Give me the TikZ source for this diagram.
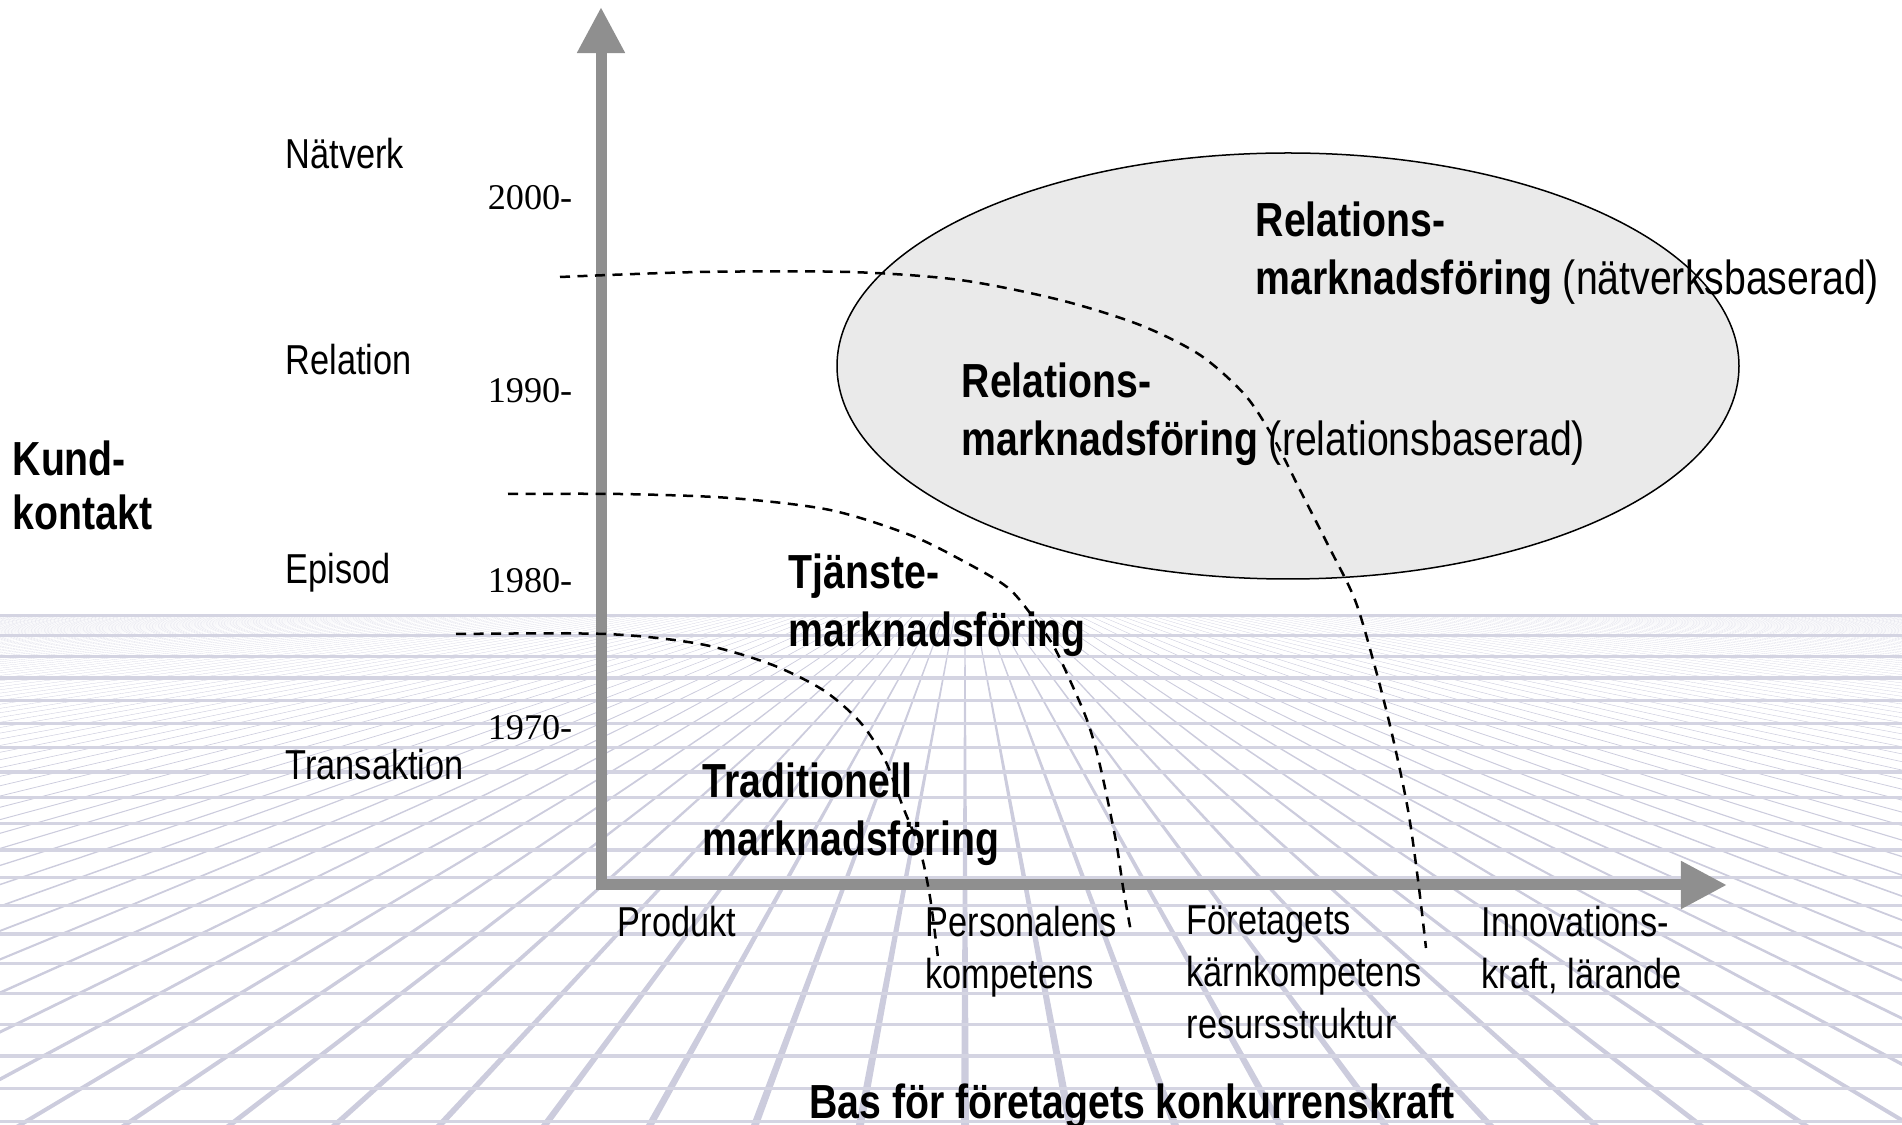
\documentclass[tikz,border=0pt]{standalone}
\usepackage{fontspec}
\setmainfont{Liberation Sans}[FakeStretch=0.82]
\newfontfamily\yearfont{Liberation Serif}
\usetikzlibrary{arrows.meta}
\definecolor{axisgray}{RGB}{143,143,143}
\definecolor{gridlilac}{RGB}{204,204,221}
\definecolor{ovalgray}{RGB}{234,234,234}

\begin{document}
\begin{tikzpicture}[x=0.01cm, y=-0.01cm,
  axis/.style={axisgray, line width=0.11cm, line cap=rect, -{Triangle[width=0.45cm,length=0.46cm]}},
  era/.style={dash pattern=on 0.1cm off 0.075cm, line width=0.025cm},
  lbl/.style={inner sep=0, anchor=north west, align=left, font=\fontsize{11.9pt}{14.8pt}\selectfont},
  bold/.style={inner sep=0, anchor=north west, align=left, font=\fontsize{13.6pt}{16.4pt}\selectfont\bfseries},
  year/.style={inner sep=0, anchor=north east, font=\yearfont\fontsize{10.3pt}{12pt}\selectfont}]
  \useasboundingbox (0,0) rectangle (1902,1125);

  % floor grid
  \begin{scope}
    \clip (0,615) rectangle (1902,1125);
    \foreach \k in {-100,...,100}
      \fill[gridlilac] (965,560) -- ({965+105*\k-4},1125) -- ({965+105*\k+4},1125) -- cycle;
    \foreach \j in {0,...,19}
      \draw[gridlilac!85, line width=0.035cm] (0,{615+20*\j+0.35*\j*\j}) -- (1902,{615+20*\j+0.35*\j*\j});
  \end{scope}

  % relationship marketing area
  \draw[fill=ovalgray, line width=0.015cm] (1288,366) ellipse [x radius=451, y radius=213];

  % axes
  \coordinate (origin) at (601,885);
  \coordinate (ytip) at (601,7);
  \coordinate (xtip) at (1727,885);
  \draw[axis] (origin) -- (ytip);
  \draw[axis] (origin) -- (xtip);

  % era borders
  \draw[era] plot[smooth] coordinates {(456,634) (606,634) (700,644) (770,664) (823,690) (860,722) (885,760) (903,807) (920,850) (930,897) (938,958)};
  \draw[era] plot[smooth] coordinates {(508,494) (620,494) (730,498) (830,510) (910,535) (965,562) (1007,587) (1030,613) (1053,645) (1073,687) (1087,720) (1097,753) (1107,797) (1117,847) (1123,887) (1131,932)};
  \draw[era] plot[smooth] coordinates {(560,277) (700,272) (850,272) (960,280) (1060,300) (1140,325) (1200,355) (1245,395) (1274,439) (1300,490) (1328,545) (1355,600) (1375,667) (1392,734) (1408,810) (1418,880) (1426,948)};

  % y axis labels
  \node[lbl] (natverk) at (285,137) {Nätverk};
  \node[lbl] (relation) at (285,343) {Relation};
  \node[lbl] (episod) at (285,552) {Episod};
  \node[lbl] (transaktion) at (285,748) {Transaktion};
  \node[year] (y2000) at (573,185) {2000-};
  \node[year] (y1990) at (573,378) {1990-};
  \node[year] (y1980) at (573,568) {1980-};
  \node[year] (y1970) at (573,715) {1970-};
  \node[bold, font=\fontsize{13.6pt}{15.4pt}\selectfont\bfseries] (kund) at (12,440) {Kund-\\kontakt};

  % x axis labels
  \node[lbl] (produkt) at (617,905) {Produkt};
  \node[lbl] (personal) at (925,905) {Personalens\\kompetens};
  \node[lbl] (karna) at (1186,905) {Företagets\\kärnkompetens\\resursstruktur};
  \node[lbl] (innovation) at (1481,905) {Innovations-\\kraft, lärande};
  \node[bold, anchor=north] (bas) at (1132,1083) {Bas för företagets konkurrenskraft};

  % marketing eras
  \node[bold] (trad) at (702,762) {Traditionell\\marknadsföring};
  \node[bold] (tjanst) at (788,553) {Tjänste-\\marknadsföring};
  \node[bold] (relbas) at (961,362) {Relations-\\marknadsföring {\mdseries(relationsbaserad)}};
  \node[bold] (natbas) at (1255,201) {Relations-\\marknadsföring {\mdseries(nätverksbaserad)}};
\end{tikzpicture}
\end{document}
